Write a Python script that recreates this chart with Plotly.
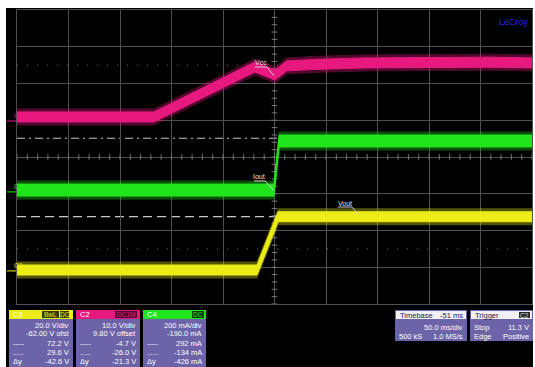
import numpy as np
import plotly.graph_objects as go

# ---------------- acquisition settings ----------------
TIME_PER_DIV_MS = 50.0
TRIGGER_DELAY_MS = -51.0          # trigger point sits 51 ms left of screen centre
N_XDIV, N_YDIV = 10, 8

# channel vertical settings: screen position (div) = (value + offset) / scale
C1_SCALE, C1_OFFSET = 20.0, -62.0     # Vout, V/div
C2_SCALE, C2_OFFSET = 10.0, 9.80      # Vcc, V/div
C4_SCALE, C4_OFFSET = 200.0, -190.0   # Iout, mA/div

TRIGGER_LEVEL_V = 11.3                # on C2

# ---------------- captured waveforms ----------------
vcc_t_ms = [-199, -66, 32, 51.5, 63, 90, 140, 200, 260, 301]
vcc_v = [1.1, 1.1, 14.7, 12.5, 15.0, 15.4, 15.8, 16.0, 16.0, 15.8]

iout_t_ms = [-199, 50.5, 55.5, 301]
iout_ma = [10, 10, 277, 277]

vout_t_ms = [-199, 34, 54.5, 301]
vout_v = [0.5, 0.5, 29.5, 29.5]

# horizontal cursors (read on C1)
cursor_c1_v = [72.2, 29.6]

# ---------------- readout tables ----------------
c1_rows = ["20.0 V/div", "-62.00 V ofst", "72.2 V", "29.6 V", "-42.6 V"]
c2_rows = ["10.0 V/div", "9.80 V offset", "-4.7 V", "-26.0 V", "-21.3 V"]
c4_rows = ["200 mA/div", "-190.0 mA", "292 mA", "-134 mA", "-426 mA"]
row_keys = ["", "", "-----", "......", "Δy"]

FONT = "Liberation Sans, Arial, sans-serif"
MAGENTA = "#e8197e"
GREEN = "#22e41c"
YELLOW = "#ecec16"
PANEL = "#6c63a8"
GRID = "#505050"

W, H = 535, 367
ML, MR, MT, MB = 17, 3, 10, 63
PLOT_W = W - ML - MR
PLOT_H = H - MT - MB
PX_PER_DIV_Y = PLOT_H / N_YDIV


def to_div(vals, scale, offset):
    return (np.asarray(vals, dtype=float) + offset) / scale


def px(xp):
    return (xp - ML) / PLOT_W


def py(yp):
    return (H - MB - yp) / PLOT_H


centre_ms = -TRIGGER_DELAY_MS
x_lo = centre_ms - TIME_PER_DIV_MS * N_XDIV / 2
x_hi = centre_ms + TIME_PER_DIV_MS * N_XDIV / 2

fig = go.Figure()

# centre-line tick marks
tick_x = np.arange(x_lo, x_hi + 0.01, TIME_PER_DIV_MS / 5)
fig.add_trace(go.Scatter(x=tick_x, y=np.zeros_like(tick_x), mode="markers",
                         marker=dict(symbol="line-ns", size=4, line=dict(color="#777", width=1)),
                         hoverinfo="skip"))
tick_y = np.arange(-N_YDIV / 2, N_YDIV / 2 + 0.01, 0.2)
fig.add_trace(go.Scatter(x=np.full_like(tick_y, centre_ms), y=tick_y, mode="markers",
                         marker=dict(symbol="line-ew", size=4, line=dict(color="#777", width=1)),
                         hoverinfo="skip"))


def add_band(t, ydiv, color, half_px):
    t = list(t)
    for extra, op in ((3.0, 0.35), (0.0, 1.0)):
        h = (half_px + extra) / PX_PER_DIV_Y
        up = list(ydiv + h)
        lo = list(ydiv - h)
        fig.add_trace(go.Scatter(x=t + t[::-1], y=up + lo[::-1], fill="toself",
                                 fillcolor=color, opacity=op, mode="lines",
                                 line=dict(color=color, width=1), hoverinfo="skip"))
    fig.add_trace(go.Scatter(x=t, y=ydiv, mode="lines", line=dict(color=color, width=1.6),
                             hoverinfo="skip"))


add_band(vcc_t_ms, to_div(vcc_v, C2_SCALE, C2_OFFSET), MAGENTA, 5)
add_band(iout_t_ms, to_div(iout_ma, C4_SCALE, C4_OFFSET), GREEN, 6)
add_band(vout_t_ms, to_div(vout_v, C1_SCALE, C1_OFFSET), YELLOW, 5)

# trigger markers: time (bottom) and level (right edge)
fig.add_trace(go.Scatter(x=[0.0], y=[-N_YDIV / 2 - 2 / PX_PER_DIV_Y], mode="markers",
                         marker=dict(symbol="triangle-up", size=6, color=MAGENTA),
                         cliponaxis=False, hoverinfo="skip"))
fig.add_trace(go.Scatter(x=[x_hi + 2.0], y=to_div([TRIGGER_LEVEL_V], C2_SCALE, C2_OFFSET),
                         mode="markers", marker=dict(symbol="triangle-left", size=5, color=MAGENTA),
                         cliponaxis=False, hoverinfo="skip"))

shapes = []
# scope screen background
shapes.append(dict(type="rect", xref="paper", yref="paper", x0=px(6), x1=px(533),
                   y0=py(H), y1=py(8), fillcolor="black", line=dict(width=0), layer="below"))

# cursor lines
cur = to_div(cursor_c1_v, C1_SCALE, C1_OFFSET)
shapes.append(dict(type="line", xref="paper", yref="y", x0=0, x1=1, y0=cur[0], y1=cur[0],
                   line=dict(color="#c8c8c8", width=1.2, dash="8px,4px,2px,4px"), layer="between"))
shapes.append(dict(type="line", xref="paper", yref="y", x0=0, x1=1, y0=cur[1], y1=cur[1],
                   line=dict(color="#c8c8c8", width=1.2, dash="9px,5px"), layer="between"))
for yy in (2.5, -2.5):
    shapes.append(dict(type="line", xref="paper", yref="y", x0=0, x1=1, y0=yy, y1=yy,
                       line=dict(color="#6a6a6a", width=1, dash="1px,9px"), layer="between"))

annotations = []

# trace labels with underline and leader
labels = [
    ("Vcc", 37.9, 2.571, 32.1, 43.7, 2.449, 50.5, 2.21),
    ("Iout", 36.4, -0.544, 31.1, 41.8, -0.653, 50.0, -0.90),
    ("Vout", 119.4, -1.252, 112.6, 126.2, -1.361, 132.0, -1.55),
]
for txt, tx, ty, u0, u1, uy, lx, ly in labels:
    annotations.append(dict(x=tx, y=ty, xref="x", yref="y", text=txt, showarrow=False,
                            font=dict(family=FONT, size=7, color="#e0e0e0")))
    shapes.append(dict(type="path", xref="x", yref="y",
                       path=f"M {u0},{uy} L {u1},{uy} L {lx},{ly}",
                       line=dict(color="#d0d0d0", width=1)))

# channel ground markers on the left edge
for name, col, gnd in (("C2", MAGENTA, C2_OFFSET / C2_SCALE),
                       ("C4", GREEN, C4_OFFSET / C4_SCALE),
                       ("C1", YELLOW, C1_OFFSET / C1_SCALE)):
    shapes.append(dict(type="line", xref="paper", yref="y", x0=px(7), x1=px(16), y0=gnd, y1=gnd,
                       line=dict(color=col, width=1)))
    annotations.append(dict(x=px(12), y=gnd, xref="paper", yref="y", yshift=5, text=name,
                            showarrow=False, font=dict(family=FONT, size=7, color=col)))

annotations.append(dict(x=px(531), y=py(15), xref="paper", yref="paper", text="LeCroy",
                        xanchor="right", showarrow=False,
                        font=dict(family=FONT, size=9, color="#2424e6")))


def text(x, y, s, color="white", anchor="right", size=7.5):
    annotations.append(dict(x=px(x), y=py(y), xref="paper", yref="paper", text=s,
                            xanchor=anchor, yanchor="middle", showarrow=False,
                            font=dict(family=FONT, size=size, color=color)))


def rect(x0, x1, y0, y1, fill, line_col=None):
    shapes.append(dict(type="rect", xref="paper", yref="paper", x0=px(x0), x1=px(x1),
                       y0=py(y1), y1=py(y0), fillcolor=fill,
                       line=dict(width=1 if line_col else 0, color=line_col or fill)))


# channel readout panels
row_y = [325, 334, 343, 352, 361.5]
channel_panels = [
    (9, 73, "C1", YELLOW, [("BwL", 42, 59), ("DC", 60, 69)], "#3a3a08", c1_rows),
    (76, 140, "C2", MAGENTA, [("DC1M", 115, 137)], "#4c0a2c", c2_rows),
    (143, 206, "C4", GREEN, [("DC", 192, 204)], "#0a3c0a", c4_rows),
]
for x0, x1, name, col, boxes, boxfill, rows in channel_panels:
    rect(x0, x1, 310, H, PANEL)
    rect(x0, x1, 310, 319, col)
    text(x0 + 2, 314.5, name, color="#ffffff", anchor="left", size=7.5)
    for bl, b0, b1 in boxes:
        rect(b0, b1, 311, 318, boxfill)
        text((b0 + b1) / 2, 314.5, bl, color=col, anchor="center", size=6.5)
    for yy, key, val in zip(row_y, row_keys, rows):
        text(x1 - 2, yy, val)
        if key:
            text(x0 + 2, yy, key, anchor="left", size=6.5 if key != "Δy" else 7.5)

# timebase panel
rect(395, 467, 310, 341, PANEL)
rect(396, 466, 311, 319, "#f2f2f6")
text(398, 315, "Timebase", color="#202048", anchor="left")
text(465, 315, "-51 ms", color="#202048")
text(465, 327.5, "50.0 ms/div")
text(397, 336.5, "500 kS", anchor="left")
text(465, 336.5, "1.0 MS/s")

# trigger panel
rect(470, 533, 310, 341, PANEL)
rect(471, 532, 311, 319, "#f2f2f6")
text(473, 315, "Trigger", color="#202048", anchor="left")
rect(519, 530, 312, 318, "#2a2a2a")
text(524.5, 315, "C2", color="#dddddd", anchor="center", size=6.5)
text(472, 327.5, "Stop", anchor="left")
text(531, 327.5, "11.3 V")
text(472, 336.5, "Edge", anchor="left")
text(531, 336.5, "Positive")

axis_common = dict(showticklabels=False, ticks="", zeroline=False, showgrid=True,
                   gridcolor=GRID, gridwidth=1, showline=True, linecolor=GRID,
                   linewidth=1, mirror=True, fixedrange=True)

fig.update_layout(
    width=W, height=H,
    margin=dict(l=ML, r=MR, t=MT, b=MB),
    paper_bgcolor="white", plot_bgcolor="black",
    showlegend=False,
    xaxis=dict(range=[x_lo, x_hi], tick0=x_lo, dtick=TIME_PER_DIV_MS, **axis_common),
    yaxis=dict(range=[-N_YDIV / 2, N_YDIV / 2], tick0=0, dtick=1, **axis_common),
    shapes=shapes,
    annotations=annotations,
)

fig.write_html("out.html")
